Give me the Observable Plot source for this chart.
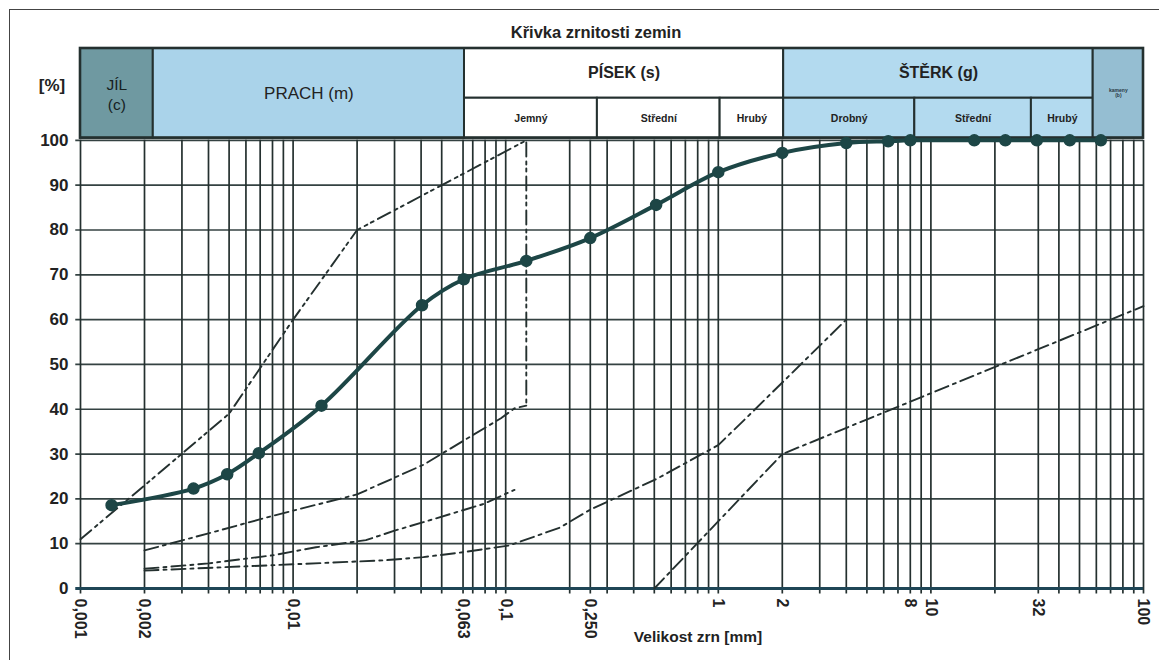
<!DOCTYPE html>
<html>
<head>
<meta charset="utf-8">
<script src="https://cdn.jsdelivr.net/npm/d3@7"></script>
<script src="https://cdn.jsdelivr.net/npm/@observablehq/plot@0.6"></script>
<style>
  html, body { margin: 0; padding: 0; background: #fff; }
  #wrap { position: relative; width: 1159px; height: 660px; overflow: hidden; background: #fff;
          font-family: "Liberation Sans", Arial, sans-serif; color: #222; }
  .lbl { position: absolute; white-space: nowrap; font-weight: bold; transform: translate(-50%, -50%); }
  #frameTop { position: absolute; left: 9px; top: 9px; width: 1150px; border-top: 1.5px solid #444; }
  #frameLeft { position: absolute; left: 9px; top: 9px; height: 651px; border-left: 1.5px solid #444; }
  #chart { position: absolute; left: 0; top: 0; }
</style>
</head>
<body>
<div id="wrap">
  <div id="frameTop"></div>
  <div id="frameLeft"></div>
  <div id="chart"></div>
  <div class="lbl" id="title" style="left:596px; top:32px; font-size:16.5px;">Křivka zrnitosti zemin</div>
  <div class="lbl" id="ylab" style="left:52px; top:86px; font-size:17px;">[%]</div>
  <div class="lbl" id="xlab" style="left:698px; top:637px; font-size:15.5px;">Velikost zrn [mm]</div>
</div>
<script>
// ---- Measured grading curve (grain size mm, % passing) ----
const sizes   = [0.0014, 0.0034, 0.0049, 0.0069, 0.0136, 0.0404, 0.0635, 0.125, 0.25, 0.51, 1, 2, 4, 6.3, 8, 16, 22.4, 31.5, 45, 63];
const passing = [18.6, 22.3, 25.5, 30.2, 40.8, 63.2, 69.0, 73.1, 78.2, 85.6, 92.9, 97.2, 99.4, 99.8, 100, 100, 100, 100, 100, 100];

// ---- Envelope / limit curves (dash-dot lines) ----
const envA_x = [0.001, 0.002, 0.005, 0.01, 0.02, 0.125, 0.125];
const envA_y = [11, 23, 39, 60, 80, 100, 41];
const envB_x = [0.002, 0.004, 0.008, 0.02, 0.041, 0.095, 0.11, 0.125];
const envB_y = [8.5, 12.3, 16.2, 21, 27.6, 38, 40.2, 40.8];
const envC_x = [0.002, 0.004, 0.008, 0.0128, 0.022, 0.03, 0.041, 0.078, 0.11];
const envC_y = [4.4, 5.6, 7.4, 9.2, 10.8, 12.9, 14.8, 18.8, 22];
const envD_x = [0.002, 0.01, 0.027, 0.041, 0.063, 0.104, 0.18, 0.25, 0.52, 1, 1.35, 4];
const envD_y = [4, 5.4, 6.3, 7, 8.1, 9.6, 13.6, 17.6, 24.6, 32, 38, 60];
const envE_x = [0.5, 2, 100];
const envE_y = [0, 30, 63];

// ---- Axes ----
const yTicks = [0, 10, 20, 30, 40, 50, 60, 70, 80, 90, 100];
const xTickValues = [0.001, 0.002, 0.01, 0.063, 0.1, 0.25, 1, 2, 8, 10, 32, 100];
const xTickLabels = ["0,001", "0,002", "0,01", "0,063", "0,1", "0,250", "1", "2", "8", "10", "32", "100"];
const xGrid = [0.001,0.002,0.003,0.004,0.005,0.006,0.007,0.008,0.009,
               0.01,0.02,0.03,0.04,0.05,0.063,0.07,0.08,0.09,
               0.1,0.2,0.25,0.3,0.4,0.5,0.6,0.7,0.8,0.9,
               1,2,3,4,5,6,7,8,9,
               10,20,32,40,50,60,70,80,90,100];

// ---- Classification header (grain size limits as drawn) ----
const headNames  = ["JÍL\n(c)", "PRACH (m)", "PÍSEK (s)", "Jemný", "Střední", "Hrubý", "ŠTĚRK (g)", "Drobný", "Střední", "Hrubý", "kameny\n(b)"];
const headFrom   = [0.001, 0.0022, 0.064, 0.064, 0.27, 1.02, 2.03, 2.03, 8.4, 29.7, 58];
const headTo     = [0.0022, 0.064, 2.03, 0.27, 1.02, 2.03, 58, 8.4, 29.7, 58, 100];
const headLevel  = ["full", "full", "top", "sub", "sub", "sub", "top", "sub", "sub", "sub", "full"];
const headFill   = ["#6f99a1", "#aad3ea", "#ffffff", "#ffffff", "#ffffff", "#ffffff", "#b3daef", "#b3daef", "#b3daef", "#b3daef", "#95bed2"];

const rowBottom = 100.5, rowMid = 109.4, rowTop = 120.5;
const header = headNames.map((name, i) => ({
  name, x1: headFrom[i], x2: headTo[i], fill: headFill[i], level: headLevel[i],
  y1: headLevel[i] === "top" ? rowMid : rowBottom,
  y2: headLevel[i] === "sub" ? rowMid : rowTop
}));
const cx = d => Math.sqrt(d.x1 * d.x2);
const cy = d => (d.y1 + d.y2) / 2;

const curve = sizes.map((s, i) => ({s, p: passing[i]}));
const toPts = (xs, ys) => xs.map((x, i) => ({x, y: ys[i]}));

const ink = "#24302f";
const font = '"Liberation Sans", Arial, sans-serif';
const dashStyle = {x: "x", y: "y", stroke: ink, strokeWidth: 1.9, strokeDasharray: "14,5,3,5"};

const chart = Plot.plot({
  width: 1159,
  height: 660,
  marginLeft: 80,
  marginRight: 16,
  marginTop: 48,
  marginBottom: 72,
  x: {type: "log", domain: [0.001, 100], axis: null},
  y: {domain: [0, rowTop], axis: null},
  style: {background: "transparent", fontFamily: font, overflow: "visible"},
  marks: [
    // header cells
    Plot.rect(header, {x1: "x1", x2: "x2", y1: "y1", y2: "y2", fill: "fill", stroke: ink, strokeWidth: 2}),
    Plot.rect([0], {x1: 0.001, x2: 100, y1: rowBottom, y2: rowTop, fill: "none", stroke: ink, strokeWidth: 2.6}),
    Plot.text(header.filter(d => d.name === "PRACH (m)"), {
      x: cx, y: cy, text: "name", fontSize: 17, fill: "#222", letterSpacing: 0.6
    }),
    Plot.text(header.filter(d => d.level === "top"), {
      x: cx, y: cy, text: "name", fontSize: 16, fontWeight: "bold", fill: "#222", letterSpacing: 0.8
    }),
    Plot.text(header.filter(d => d.name === "JÍL\n(c)"), {
      x: cx, y: cy, text: "name", fontSize: 15.5, fill: "#16211f", lineHeight: 1.35
    }),
    Plot.text(header.filter(d => d.name === "kameny\n(b)"), {
      x: cx, y: cy, text: "name", fontSize: 5, fontWeight: "bold", fill: "#2a3a44"
    }),
    Plot.text(header.filter(d => d.level === "sub"), {
      x: cx, y: cy, text: "name", fontSize: 10.5, fontWeight: "bold", fill: "#222"
    }),

    // horizontal grid
    Plot.ruleY(yTicks.filter(v => v > 0), {x1: 0.00095, x2: 100, stroke: "#344242", strokeWidth: 1.7}),
    // vertical grid
    Plot.ruleX(xGrid, {y1: -1.2, y2: 100, stroke: ink, strokeWidth: 1.7}),
    // baseline
    Plot.ruleY([0], {x1: 0.00095, x2: 100, stroke: "#1f4656", strokeWidth: 2.8}),

    // y tick labels
    Plot.text(yTicks, {x: 0.001, y: d => d, text: d => String(d), dx: -12, textAnchor: "end",
      fontSize: 17, fontWeight: "bold", fill: "#222"}),
    // x tick labels
    Plot.text(xTickValues, {x: d => d, y: 0, text: (d, i) => xTickLabels[i], dy: 10, rotate: 90,
      textAnchor: "start", lineAnchor: "middle", fontSize: 16, fontWeight: "bold", fill: "#222"}),

    // envelope curves
    Plot.line(toPts(envA_x, envA_y), {...dashStyle, strokeDasharray: "14,5,3,4,3,5"}),
    Plot.line(toPts(envB_x, envB_y), dashStyle),
    Plot.line(toPts(envC_x, envC_y), dashStyle),
    Plot.line(toPts(envD_x, envD_y), dashStyle),
    Plot.line(toPts(envE_x, envE_y), dashStyle),

    // measured curve
    Plot.line(curve, {x: "s", y: "p", stroke: "#1d4646", strokeWidth: 4, curve: "catmull-rom"}),
    Plot.dot(curve, {x: "s", y: "p", r: 5.5, fill: "#1d4646", stroke: "#1d4646"})
  ]
});
document.getElementById("chart").appendChild(chart);
</script>
</body>
</html>
